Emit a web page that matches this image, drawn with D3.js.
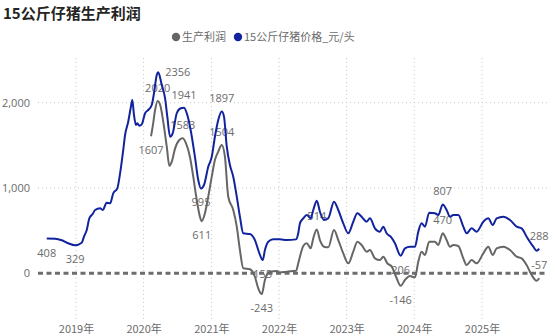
<!DOCTYPE html>
<html><head><meta charset="utf-8">
<script src="https://cdn.jsdelivr.net/npm/d3@7"></script>
<style>body{margin:0;background:#fff}svg{display:block}</style>
</head><body><svg id="c" width="550" height="336"></svg>
<script>
// ---- data ----
const title = "15公斤仔猪生产利润";
const seriesNames = ["生产利润", "15公斤仔猪价格_元/头"];
const yTicks = [0, 1000, 2000];
const yearTicks = ["2019", "2020", "2021", "2022", "2023", "2024", "2025"];

const priceDates = ["2018-07-27","2018-09-10","2018-10-16","2018-11-20","2018-12-27","2019-02-01","2019-02-13","2019-02-28","2019-03-14","2019-04-01","2019-04-14","2019-05-11","2019-05-25","2019-06-16","2019-07-04","2019-07-21","2019-08-12","2019-08-27","2019-09-13","2019-09-23","2019-10-10","2019-10-23","2019-11-01","2019-11-10","2019-11-21","2019-11-28","2019-12-09","2019-12-22","2020-01-09","2020-01-26","2020-02-14","2020-02-26","2020-03-12","2020-03-20","2020-04-08","2020-04-26","2020-05-08","2020-05-23","2020-06-06","2020-06-28","2020-07-19","2020-08-06","2020-08-24","2020-09-11","2020-10-04","2020-10-22","2020-11-06","2020-11-22","2020-12-15","2021-01-03","2021-01-20","2021-02-07","2021-02-26","2021-03-10","2021-03-25","2021-04-11","2021-04-29","2021-05-18","2021-06-04","2021-06-22","2021-07-28","2021-08-24","2021-09-17","2021-10-05","2021-10-17","2021-11-04","2021-12-01","2022-01-06","2022-02-12","2022-04-03","2022-04-15","2022-04-24","2022-05-12","2022-05-31","2022-06-21","2022-07-05","2022-07-24","2022-08-10","2022-09-01","2022-09-24","2022-10-25","2022-11-17","2022-12-14","2023-01-10","2023-02-06","2023-02-28","2023-03-23","2023-04-19","2023-05-07","2023-06-03","2023-06-30","2023-07-18","2023-08-05","2023-08-27","2023-09-19","2023-10-20","2023-11-12","2023-12-09","2024-01-05","2024-01-23","2024-02-10","2024-02-28","2024-03-22","2024-04-22","2024-05-10","2024-06-03","2024-06-24","2024-07-12","2024-07-30","2024-08-26","2024-09-22","2024-10-10","2024-11-06","2024-12-03","2025-01-08","2025-02-04","2025-02-28","2025-03-21","2025-04-26","2025-06-01","2025-07-07","2025-08-03","2025-08-30","2025-10-05","2025-10-23","2025-11-06"];
const priceValues = [408,405,387,352,329,359,429,508,645,695,742,762,742,828,820,938,996,1172,1445,1621,1777,1934,2031,1856,1739,1758,1730,1745,1876,1914,1973,2110,2325,2356,2207,2051,1836,1601,1641,1876,1934,1941,1856,1680,1367,1094,995,1035,1250,1367,1601,1797,1897,1836,1484,1270,1132,898,664,469,461,390,234,155,273,371,398,398,390,398,469,586,645,683,645,742,851,722,625,645,839,742,586,469,605,703,664,605,645,527,488,547,469,429,352,206,293,312,312,488,586,547,711,703,683,807,742,664,683,683,547,469,527,488,605,645,566,645,664,625,547,527,429,312,265,288];

const profitDates = ["2020-02-10","2020-02-19","2020-03-03","2020-03-17","2020-04-02","2020-04-16","2020-05-05","2020-05-19","2020-06-01","2020-06-19","2020-07-12","2020-07-30","2020-08-17","2020-09-07","2020-09-25","2020-10-14","2020-10-31","2020-11-10","2020-11-27","2020-12-15","2021-01-03","2021-01-20","2021-02-07","2021-02-26","2021-03-15","2021-04-02","2021-04-29","2021-05-18","2021-06-04","2021-06-22","2021-07-28","2021-08-24","2021-09-11","2021-09-30","2021-10-17","2021-11-13","2021-12-20","2022-01-06","2022-02-12","2022-04-03","2022-04-15","2022-04-24","2022-05-12","2022-05-31","2022-06-21","2022-07-05","2022-07-24","2022-08-10","2022-09-01","2022-09-24","2022-10-25","2022-11-17","2022-12-14","2023-01-10","2023-02-06","2023-02-28","2023-03-23","2023-04-19","2023-05-07","2023-06-03","2023-06-30","2023-07-18","2023-08-09","2023-09-02","2023-09-25","2023-10-20","2023-11-12","2023-12-09","2024-01-05","2024-01-23","2024-02-10","2024-02-28","2024-03-22","2024-04-22","2024-05-10","2024-06-03","2024-06-24","2024-07-12","2024-07-30","2024-08-26","2024-09-22","2024-10-10","2024-11-06","2024-12-03","2025-01-08","2025-02-04","2025-02-28","2025-03-21","2025-04-26","2025-06-01","2025-07-07","2025-08-03","2025-08-30","2025-09-26","2025-10-23","2025-11-06"];
const profitValues = [1607,1719,1914,2020,1953,1777,1484,1258,1308,1465,1563,1583,1524,1367,1133,859,664,611,703,898,1133,1328,1426,1504,1367,898,742,547,273,59,47,-40,-176,-243,-78,19,27,10,20,30,117,195,320,352,293,410,514,390,312,305,508,390,234,117,254,371,332,254,273,176,156,195,117,78,-40,-146,-78,-32,-47,136,254,215,371,371,332,470,390,312,332,320,176,97,156,117,234,312,215,293,312,273,195,176,97,-20,-87,-57];

// labelled points: [date, placement]
const priceLabels = [["2018-07-27","below"],["2018-12-27","below"],["2020-03-20","right"],["2020-08-06","above"],["2020-11-06","below"],["2021-02-26","above"],["2021-10-05","below"],["2023-10-20","below"],["2024-06-03","above"],["2025-11-06","above"]];
const profitLabels = [["2020-02-10","below"],["2020-03-17","above"],["2020-07-30","above"],["2020-11-10","below"],["2021-02-26","above"],["2021-09-30","below"],["2022-07-24","above"],["2023-10-20","below"],["2024-06-03","above"],["2025-11-06","above"]];

// ---- drawing ----
const parse = d3.timeParse("%Y-%m-%d");
const price = priceDates.map((d, i) => ({date: parse(d), value: priceValues[i]}));
const profit = profitDates.map((d, i) => ({date: parse(d), value: profitValues[i]}));

const svg = d3.select("#c");
const plotL = 38, plotR = 547, plotT = 58, plotB = 320;
const x = d3.scaleTime().domain([new Date(2019,0,1), new Date(2025,0,1)]).range([76, 482]);
const y = d3.scaleLinear().domain([-500, 2500]).range([316, 60]);

const BLUE = "#12239E", GRAY = "#666666", TXT = "#6b6b6b";
const numFont = "'Segoe UI', 'Open Sans', 'Noto Sans', sans-serif";
const cjkFont = "'Noto Sans CJK SC', 'Noto Sans', sans-serif";

// title
svg.append("text").attr("x", 3).attr("y", 19).attr("font-family", cjkFont)
  .attr("font-size", 15).attr("font-weight", 700).attr("fill", "#252423").text(title);

// legend
const leg = svg.append("g").attr("font-family", cjkFont).attr("font-size", 11).attr("fill", TXT);
const legItems = [{name: seriesNames[0], color: GRAY, x: 176}, {name: seriesNames[1], color: BLUE, x: 238}];
legItems.forEach(it => {
  leg.append("circle").attr("cx", it.x).attr("cy", 37).attr("r", 4.2).attr("fill", it.color);
  leg.append("text").attr("x", it.x + 6).attr("y", 41).text(it.name);
});

// vertical grid
const years = yearTicks.map(t => new Date(+t, 0, 1));
svg.append("g").selectAll("line").data(years).join("line")
  .attr("x1", d => x(d)).attr("x2", d => x(d)).attr("y1", plotT).attr("y2", plotB)
  .attr("stroke", "#c8c8c8").attr("stroke-width", 1).attr("stroke-dasharray", "1,3");
// horizontal grid
svg.append("g").selectAll("line").data(yTicks.filter(v => v !== 0)).join("line")
  .attr("x1", plotL).attr("x2", plotR).attr("y1", d => y(d)).attr("y2", d => y(d))
  .attr("stroke", "#c8c8c8").attr("stroke-width", 1).attr("stroke-dasharray", "1,3");

// y axis labels
const yAxis = d3.axisLeft(y).tickValues(yTicks).tickFormat(d3.format(",")).tickSize(0).tickPadding(0);
const ya = svg.append("g").attr("transform", "translate(30,0)").call(yAxis);
ya.select(".domain").remove();
ya.selectAll("text").attr("font-family", numFont).attr("font-size", 11).attr("fill", TXT);

// x axis labels
const xAxis = d3.axisBottom(x).tickValues(years).tickFormat((d, i) => yearTicks[i] + "年").tickSize(0).tickPadding(0);
const xa = svg.append("g").attr("transform", "translate(0,325)").call(xAxis);
xa.select(".domain").remove();
xa.selectAll("text").attr("font-family", cjkFont).attr("font-size", 11).attr("fill", TXT);

// data labels
function addLabels(data, labels) {
  labels.forEach(([ds, pos]) => {
    const p = data.find(d => +d.date === +parse(ds));
    const px = x(p.date), py = y(p.value);
    const t = svg.append("text").attr("font-family", numFont).attr("font-size", 11).attr("fill", TXT).text(String(p.value));
    if (pos === "above") t.attr("x", px).attr("y", py - 9).attr("text-anchor", "middle");
    else if (pos === "below") t.attr("x", px).attr("y", py + 18).attr("text-anchor", "middle");
    else t.attr("x", px + 7).attr("y", py + 4).attr("text-anchor", "start");
  });
}
addLabels(price, priceLabels);
addLabels(profit, profitLabels);

// zero line
svg.append("line").attr("x1", plotL).attr("x2", plotR).attr("y1", y(0)).attr("y2", y(0))
  .attr("stroke", "#6e6e6e").attr("stroke-width", 3).attr("stroke-dasharray", "5,3.5");

// lines
const line = d3.line().x(d => x(d.date)).y(d => y(d.value)).curve(d3.curveMonotoneX);
svg.append("path").datum(profit).attr("d", line).attr("fill", "none").attr("stroke", GRAY).attr("stroke-width", 2);
svg.append("path").datum(price).attr("d", line).attr("fill", "none").attr("stroke", BLUE).attr("stroke-width", 2);
</script>
</body></html>
